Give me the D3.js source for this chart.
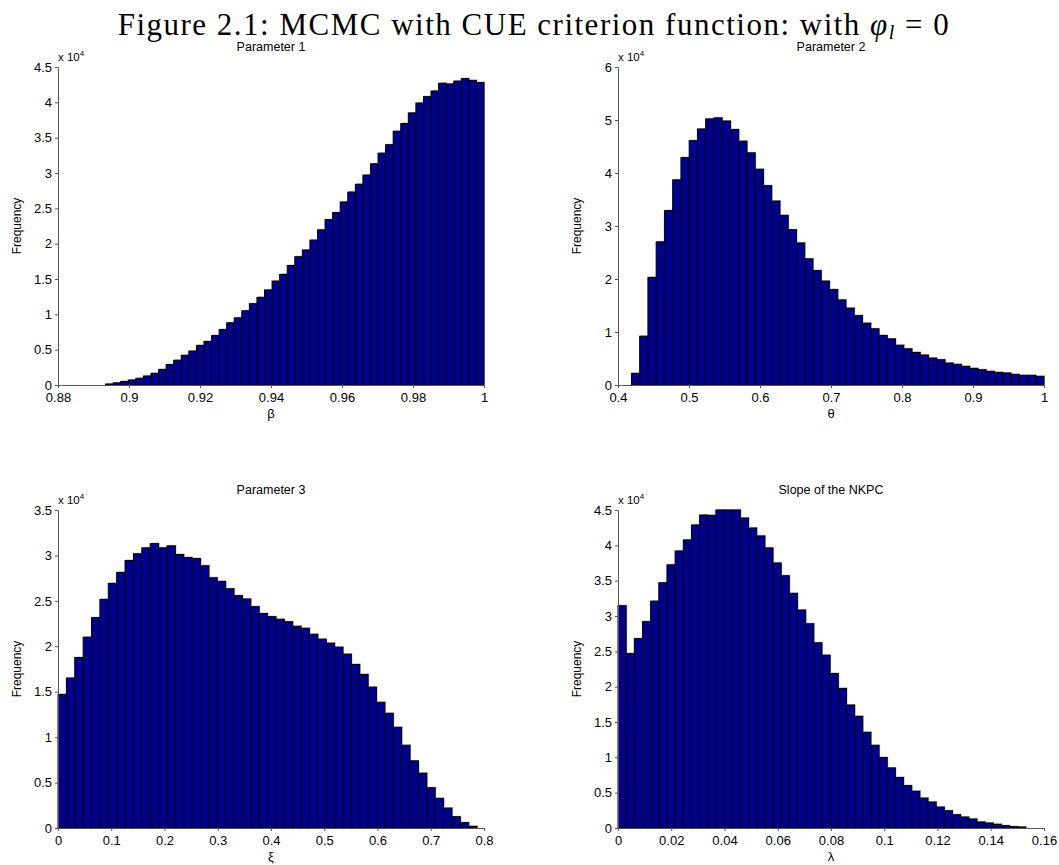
<!DOCTYPE html>
<html>
<head>
<meta charset="utf-8">
<script src="https://d3js.org/d3.v7.min.js"></script>
<style>
body {margin:0; background:white;}
svg text {font-family: "Liberation Sans", Arial, sans-serif;}
</style>
</head>
<body>
<svg id="fig" width="1059" height="865"></svg>
<script>
// histogram counts
var beta = [140, 300, 500, 700, 940, 1270, 1650, 2200, 2900, 3500,
  4200, 4800, 5600, 6160, 7000, 7850, 8800, 9500, 10500, 11500,
  12400, 13450, 14700, 15650, 16900, 18150, 19100, 20500, 21950, 23400,
  24400, 25900, 27300, 28400, 29700, 31300, 32800, 34000, 35900, 37000,
  38500, 39900, 40800, 41600, 42700, 42600, 43000, 43350, 43100, 42800];
var theta = [2190, 9200, 20300, 27000, 32900, 38700, 42900, 46100, 48300, 50200,
  50400, 49800, 48200, 46000, 43800, 40700, 37600, 34700, 32000, 29300,
  26800, 23800, 21600, 19600, 18000, 16050, 14500, 13100, 11660, 10600,
  9340, 8700, 7500, 6830, 6140, 5640, 5080, 4760, 4140, 3890,
  3510, 3130, 2880, 2570, 2380, 2260, 2000, 1820, 1820, 1630];
var xi = [14700, 16500, 18760, 21000, 23150, 25160, 26920, 28130, 29440, 30180,
  30830, 31300, 30830, 31050, 30100, 29770, 29660, 28860, 27540, 27140,
  26330, 25570, 25200, 24360, 23600, 23260, 22970, 22700, 22200, 21980,
  21320, 20780, 20340, 19900, 19130, 18000, 16900, 15500, 13830, 12620,
  11080, 9100, 7390, 6030, 4430, 3260, 2190, 1240, 590, 180];
var lambda = [31450, 24680, 26800, 29200, 32100, 34700, 37240, 39200, 40760, 42880,
  44290, 44240, 45300, 45300, 45300, 43860, 42450, 41330, 39630, 37500,
  35700, 33200, 30840, 28900, 26200, 24450, 21860, 19750, 17400, 15800,
  13540, 11700, 9970, 8500, 7150, 6000, 5200, 4230, 3670, 2960,
  2440, 1880, 1550, 1270, 850, 700, 520, 330, 190, 140];

// bin ranges (first edge, last edge)
var betaRange = [0.8934, 1.0];
var thetaRange = [0.4189, 1.0];
var xiRange = [0, 0.787];
var lambdaRange = [0, 0.1532];

// tick values
var betaTicks = [0.88, 0.9, 0.92, 0.94, 0.96, 0.98, 1];
var thetaTicks = [0.4, 0.5, 0.6, 0.7, 0.8, 0.9, 1];
var xiTicks = [0, 0.1, 0.2, 0.3, 0.4, 0.5, 0.6, 0.7, 0.8];
var lambdaTicks = [0, 0.02, 0.04, 0.06, 0.08, 0.1, 0.12, 0.14, 0.16];
var y45Ticks = [0, 0.5, 1, 1.5, 2, 2.5, 3, 3.5, 4, 4.5];
var y6Ticks = [0, 1, 2, 3, 4, 5, 6];
var y35Ticks = [0, 0.5, 1, 1.5, 2, 2.5, 3, 3.5];

var panels = [
  {title: "Parameter 1", xlab: "\u03b2", counts: beta, range: betaRange, xdom: [0.88, 1], xticks: betaTicks, ymax: 4.5, yticks: y45Ticks, left: 58, top: 67},
  {title: "Parameter 2", xlab: "\u03b8", counts: theta, range: thetaRange, xdom: [0.4, 1], xticks: thetaTicks, ymax: 6, yticks: y6Ticks, left: 618, top: 67},
  {title: "Parameter 3", xlab: "\u03be", counts: xi, range: xiRange, xdom: [0, 0.8], xticks: xiTicks, ymax: 3.5, yticks: y35Ticks, left: 58, top: 510},
  {title: "Slope of the NKPC", xlab: "\u03bb", counts: lambda, range: lambdaRange, xdom: [0, 0.16], xticks: lambdaTicks, ymax: 4.5, yticks: y45Ticks, left: 618, top: 510}
];

var w = 426, h = 318;
var svg = d3.select("#fig");

// main title
var t = svg.append("text")
  .attr("x", 534).attr("y", 35)
  .attr("text-anchor", "middle")
  .style("font-family", "'Liberation Serif', 'DejaVu Serif', serif")
  .style("font-size", "31px")
  .style("letter-spacing", "1.5px");
t.append("tspan").text("Figure 2.1: MCMC with CUE criterion function: with ");
t.append("tspan").style("font-style", "italic").text("\u03c6");
t.append("tspan").style("font-style", "italic").style("font-size", "20px").attr("dy", 4).text("l");
t.append("tspan").attr("dy", -4).text(" = 0");

panels.forEach(function(p) {
  var g = svg.append("g").attr("transform", "translate(" + p.left + "," + p.top + ")");
  var x = d3.scaleLinear().domain(p.xdom).range([0, w]);
  var y = d3.scaleLinear().domain([0, p.ymax * 1e4]).range([h, 0]);
  var n = p.counts.length;
  var bw = (p.range[1] - p.range[0]) / n;
  var bins = p.counts.map(function(c, i) {
    return {x0: p.range[0] + i * bw, x1: p.range[0] + (i + 1) * bw, c: Math.min(c, p.ymax * 1e4)};
  });

  // light grey shadow the old export leaves on top/right of the bars
  g.selectAll("rect.sh").data(bins).enter().append("rect")
    .attr("class", "sh")
    .attr("x", function(d) { return x(d.x0) + 1; })
    .attr("y", function(d) { return y(d.c) - 1; })
    .attr("width", function(d) { return x(d.x1) - x(d.x0); })
    .attr("height", function(d) { return h - y(d.c); })
    .attr("fill", "#b4b4b4");

  g.selectAll("rect.bar").data(bins).enter().append("rect")
    .attr("class", "bar")
    .attr("x", function(d) { return x(d.x0); })
    .attr("y", function(d) { return y(d.c); })
    .attr("width", function(d) { return x(d.x1) - x(d.x0); })
    .attr("height", function(d) { return h - y(d.c); })
    .attr("fill", "#00008f")
    .attr("stroke", "#000")
    .attr("stroke-width", 1);

  var xAxis = d3.axisBottom(x).tickValues(p.xticks).tickSize(3).tickPadding(5)
    .tickFormat(function(d) { return String(+d.toFixed(2)); });
  var yAxis = d3.axisLeft(y).tickValues(p.yticks.map(function(v) { return v * 1e4; }))
    .tickSize(3).tickPadding(3)
    .tickFormat(function(d) { return String(+(d / 1e4).toFixed(1)); });

  var gx = g.append("g").attr("transform", "translate(0," + h + ")").call(xAxis);
  var gy = g.append("g").call(yAxis);
  [gx, gy].forEach(function(a) {
    a.select(".domain").attr("stroke", "#555");
    a.selectAll(".tick line").attr("stroke", "#555");
    a.selectAll(".tick text").attr("fill", "#000")
      .style("font-family", "'Liberation Sans', Arial, sans-serif").style("font-size", "13px");
  });

  // subplot title
  g.append("text").attr("x", w / 2).attr("y", -16)
    .attr("text-anchor", "middle").style("font-size", "12.5px").text(p.title);

  // exponent
  var e = g.append("text").attr("x", 0).attr("y", -6).style("font-size", "11.5px");
  e.append("tspan").text("x 10");
  e.append("tspan").attr("dy", -5).style("font-size", "8px").text("4");

  // axis labels
  g.append("text").attr("x", w / 2).attr("y", h + 33)
    .attr("text-anchor", "middle").style("font-size", "13px").text(p.xlab);
  g.append("text").attr("transform", "translate(-37," + (h / 2) + ") rotate(-90)")
    .attr("text-anchor", "middle").style("font-size", "12px").text("Frequency");
});
</script>
</body>
</html>
